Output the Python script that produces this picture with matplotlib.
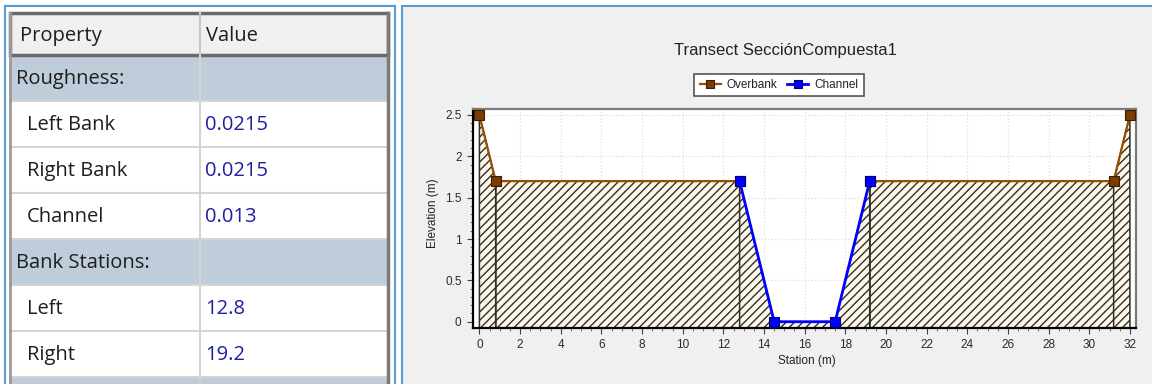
import matplotlib
matplotlib.use('Agg')
import matplotlib.pyplot as plt
from matplotlib.patches import Rectangle
from matplotlib.ticker import MultipleLocator, FormatStrFormatter

# property grid (left panel)
prop_names = ['Roughness:', 'Left Bank', 'Right Bank', 'Channel',
              'Bank Stations:', 'Left', 'Right', '']
prop_values = ['', '0.0215', '0.0215', '0.013', '', '12.8', '19.2', '']
prop_group = [True, False, False, False, True, False, False, True]

# transect (right panel)
title = 'Transect SecciónCompuesta1'
ob_left_x = [0, 0.8, 12.8]
ob_left_y = [2.5, 1.7, 1.7]
ob_right_x = [19.2, 31.2, 32]
ob_right_y = [1.7, 1.7, 2.5]
chan_x = [12.8, 14.5, 17.5, 19.2]
chan_y = [1.7, 0, 0, 1.7]

W, H = 1152, 384
fig = plt.figure(figsize=(W / 100, H / 100), dpi=100)

# background layer in pixel coordinates
bg = fig.add_axes([0, 0, 1, 1], zorder=0)
bg.set_xlim(0, W)
bg.set_ylim(H, 0)
bg.axis('off')

blue = '#5b9bd5'
bg.add_patch(Rectangle((5, 6), 390, 400, fc='white', ec=blue, lw=1.5))
bg.add_patch(Rectangle((402, 6), 800, 400, fc='#f0f0f0', ec=blue, lw=1.5))

# table
x0, x1, xc = 10, 388, 200
tfont = dict(family=['Open Sans', 'DejaVu Sans'], fontsize=14.5)
bg.add_patch(Rectangle((x0, 13), x1 - x0, 42, fc='#f0f0f0', ec='none'))
for i, (name, val, grp) in enumerate(zip(prop_names, prop_values, prop_group)):
    y = 55 + 46 * i
    bg.add_patch(Rectangle((x0, y), x1 - x0, 46,
                           fc='#bfcddb' if grp else 'white', ec='none'))
    bg.plot([x0, x1], [y + 46, y + 46], color='#d4d4d4', lw=1.5)
    bg.text(16 if grp else 27, y + 24, name, va='center', color='#1e1e1e', **tfont)
    bg.text(205, y + 24, val, va='center', color='#1f1fa0', **tfont)
bg.plot([xc, xc], [13, H], color='#d4d4d4', lw=1.5)
bg.plot([x0, x0], [13, H], color='#9a9a9a', lw=2)
bg.plot([x1, x1], [13, H], color='#7a7a7a', lw=2.5)
bg.add_patch(Rectangle((x0, 13), x1 - x0, 42, fill=False, ec='#6a6a6a', lw=2.5))
bg.plot([xc, xc], [15, 53], color='#c8c8c8', lw=1.5)
bg.text(20, 36, 'Property', va='center', color='#1e1e1e', **tfont)
bg.text(206, 36, 'Value', va='center', color='#1e1e1e', **tfont)

# chart
cfont = ['Liberation Sans', 'DejaVu Sans']
ax = fig.add_axes([472.7 / W, 1 - 328 / H, (1136 - 472.7) / W, (328 - 109) / H],
                  zorder=1)
ax.set_xlim(-0.33, 32.3)
ax.set_ylim(-0.076, 2.572)
ymin = ax.get_ylim()[0]

hatch_kw = dict(facecolor='#fcf7e6', edgecolor='#2e2e2e', hatch='////',
                linewidth=1.1, zorder=2)
for xs, ys in [(ob_left_x, ob_left_y), (ob_right_x, ob_right_y)]:
    for k in range(len(xs) - 1):
        ax.fill_between(xs[k:k + 2], ys[k:k + 2], ymin, **hatch_kw)
ax.fill_between(chan_x, chan_y, ymin, **hatch_kw)

brown = '#9a4d00'
ax.plot(ob_left_x, ob_left_y, color=brown, lw=1.6, marker='s', ms=7.5,
        mfc='#7a3c00', mec='#3a1c00', mew=0.8, label='Overbank', zorder=4,
        clip_on=False)
ax.plot(ob_right_x, ob_right_y, color=brown, lw=1.6, marker='s', ms=7.5,
        mfc='#7a3c00', mec='#3a1c00', mew=0.8, zorder=4, clip_on=False)
ax.plot(chan_x, chan_y, color='#0000ff', lw=2.0, marker='s', ms=7.5,
        mfc='#0000ff', mec='#00006a', mew=0.8, label='Channel', zorder=5,
        clip_on=False)

ax.xaxis.set_major_locator(MultipleLocator(2))
ax.xaxis.set_minor_locator(MultipleLocator(0.5))
ax.yaxis.set_major_locator(MultipleLocator(0.5))
ax.yaxis.set_minor_locator(MultipleLocator(0.1))
ax.yaxis.set_major_formatter(FormatStrFormatter('%g'))
ax.grid(True, which='major', color='#dedede', linestyle=':', lw=0.9, zorder=0)
ax.set_axisbelow(True)
ax.tick_params(which='major', direction='out', length=4, width=0.8,
               color='#404040', labelsize=8.5, labelcolor='#2a2a2a', pad=4)
ax.tick_params(which='minor', direction='out', length=2, width=0.6,
               color='#606060')
for lab in ax.get_xticklabels() + ax.get_yticklabels():
    lab.set_family(cfont)
for s in ['left', 'bottom']:
    ax.spines[s].set_color('black')
    ax.spines[s].set_linewidth(1.6)
for s in ['top', 'right']:
    ax.spines[s].set_color('#7a7a7a')
    ax.spines[s].set_linewidth(1.6)

fig.text(785 / W, 1 - 51 / H, title, ha='center', va='center', fontsize=12,
         color='#222222', family=cfont)
fig.text(433 / W, 1 - 213 / H, 'Elevation (m)', rotation=90, ha='center',
         va='center', fontsize=8.5, color='#222222', family=cfont)
fig.text(807 / W, 1 - 361 / H, 'Station (m)', ha='center', va='center',
         fontsize=8.5, color='#222222', family=cfont)

leg = ax.legend(loc='center', bbox_to_anchor=(779 / W, 1 - 85 / H),
                bbox_transform=fig.transFigure, ncol=2, fancybox=False,
                frameon=True, edgecolor='#555555', framealpha=1,
                handlelength=1.8, handletextpad=0.5, columnspacing=0.8,
                borderpad=0.45, borderaxespad=0, markerscale=0.75,
                prop={'family': cfont, 'size': 8.5})
leg.get_frame().set_linewidth(1.2)
for t in leg.get_texts():
    t.set_color('#222222')

fig.savefig('out.png', dpi=100)
